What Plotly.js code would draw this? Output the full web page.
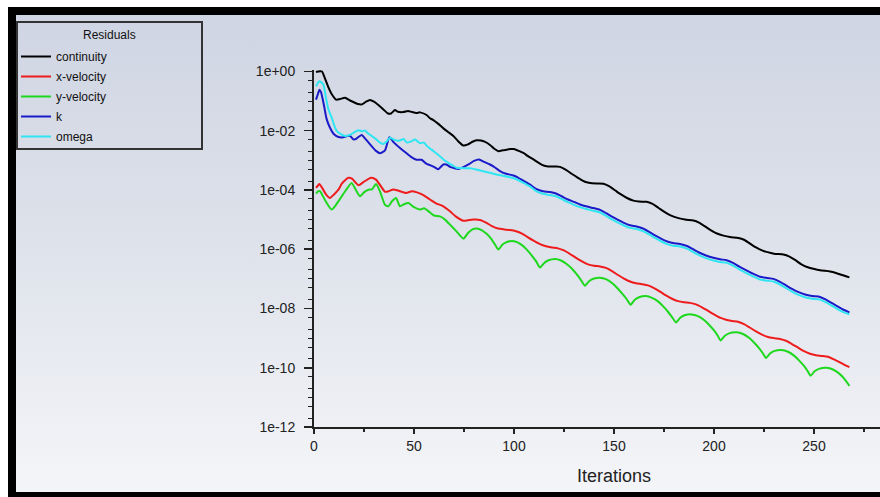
<!DOCTYPE html>
<html>
<head>
<meta charset="utf-8">
<script src="https://cdn.plot.ly/plotly-3.0.1.min.js"></script>
<style>
html,body{margin:0;padding:0;background:#fff;width:880px;height:497px;overflow:hidden}
#frame{position:absolute;left:8px;top:7px;width:872px;height:490px;box-sizing:border-box;border-top:8px solid #000;border-left:8px solid #000;border-bottom:5px solid #000;}
#chart{position:absolute;left:0;top:0;width:864px;height:477px;background:linear-gradient(to bottom,#cfd5e3 0%,#dde1ea 45%,#f4f5f8 100%);}
</style>
</head>
<body>
<div id="frame"><div id="chart"></div></div>
<script>
// Residual values are stored as log10(residual).
const seriesNames = ['continuity','x-velocity','y-velocity','k','omega'];

const continuityIter = [1,2,4,5,7,9,11,13,15.5,18,
 20,22,24,26,28,30,32,34.7,37,38.5,
 40.5,42,44.7,47,49,51.3,53,56.3,58,59.7,
 62,64.7,67,69.7,72,74.7,77,79,81.3,83.5,
 85.3,88,90,92.2,94.5,96.3,98,100,102,104.7,
 107,109.7,112,114,116.3,119,121,123,126,129,
 132,134.5,136.3,139,142,144.7,147.5,150.5,153.5,156.5,
 159.7,162.5,166.3,169,172,175,178,182.2,185.5,189.7,
 192.5,195.5,198.5,201.5,204.7,208,212.2,215,218,221,
 224,226.3,230,234.7,237.5,240.5,243.5,246.5,249.7,253,
 258,261,264,267.7];
const continityLog = [-0.02,0.0,0.0,-0.15,-0.50,-0.78,-0.95,-0.93,-0.89,-0.98,
 -1.04,-1.10,-1.11,-1.02,-0.96,-1.02,-1.12,-1.28,-1.42,-1.42,
 -1.30,-1.36,-1.37,-1.33,-1.37,-1.40,-1.38,-1.47,-1.58,-1.64,
 -1.76,-1.92,-2.04,-2.18,-2.35,-2.50,-2.46,-2.38,-2.32,-2.33,
 -2.37,-2.48,-2.60,-2.69,-2.66,-2.64,-2.62,-2.62,-2.67,-2.75,
 -2.86,-2.97,-3.07,-3.15,-3.20,-3.21,-3.21,-3.22,-3.32,-3.46,
 -3.59,-3.69,-3.74,-3.77,-3.78,-3.79,-3.87,-4.01,-4.15,-4.27,
 -4.36,-4.39,-4.40,-4.46,-4.59,-4.73,-4.85,-4.95,-5.00,-5.03,
 -5.10,-5.23,-5.36,-5.47,-5.54,-5.59,-5.62,-5.68,-5.81,-5.94,
 -6.04,-6.09,-6.15,-6.18,-6.24,-6.36,-6.50,-6.60,-6.66,-6.71,
 -6.75,-6.80,-6.87,-6.95];

const xVelIter = [1,2,2.7,4,6,8,10,12.2,14,17.2,
 19,22.2,25,28.5,31,33.5,35.5,37,39.7,42,
 46,49,51.5,54,58,61,64.7,68,71,74.7,
 77,79.7,83,86,89,92,95,98,101,104,
 107,110,113,116,119,122,125,128,131,134,
 137,140,143,146,149,152,155,158,161,164,
 167,170,173,176,179,182,185,188,191,194,
 197,200,203,206,209,212,215,218,221,224,
 227,230,233,236,239,242,245,248,251,254,
 257,260,263,266,267.7];
const xVelLog = [-3.93,-3.85,-3.80,-3.92,-4.15,-4.27,-4.15,-3.99,-3.78,-3.59,
 -3.62,-3.84,-3.72,-3.59,-3.65,-3.88,-4.06,-4.05,-3.98,-4.02,
 -4.10,-4.04,-4.08,-4.15,-4.32,-4.45,-4.55,-4.72,-4.90,-5.04,
 -5.02,-5.00,-5.01,-5.10,-5.22,-5.30,-5.33,-5.35,-5.39,-5.47,
 -5.60,-5.72,-5.83,-5.90,-5.94,-5.97,-6.04,-6.16,-6.29,-6.41,
 -6.51,-6.56,-6.58,-6.63,-6.74,-6.87,-6.99,-7.09,-7.15,-7.18,
 -7.22,-7.31,-7.43,-7.56,-7.67,-7.75,-7.79,-7.81,-7.86,-7.96,
 -8.08,-8.20,-8.31,-8.38,-8.42,-8.45,-8.53,-8.65,-8.77,-8.88,
 -8.96,-9.00,-9.03,-9.09,-9.20,-9.32,-9.44,-9.53,-9.58,-9.60,
 -9.63,-9.72,-9.82,-9.93,-9.98];

const yVelIter = [1,2,3,4,6,8.8,11,13.8,16,18.8,
 20,23,25,27.2,29,31,33,35.5,37.2,39,
 41,43,45,47.2,50,53,55,58,60,63,
 65.5,68,71,74.7,77,79.5,81.3,84,86.3,88.5,
 90.5,92.2,
 94,96,98.8,101.5,104,106.5,109,111,113,
 115,117,120.5,123.5,126.3,129,131.5,133.5,135.5,
 137.5,140,143,146,149,151.5,154,156.3,158.3,
 160.3,162.5,166,169,172,174.5,177,179,181,
 183,185.3,188.8,192,195,197.5,200,201.8,203.3,
 205.3,207.8,211.3,214.5,217.5,220,222.5,224.4,226,
 228,230.3,233.8,237,240,242.5,245,246.8,248.3,
 250.3,252.8,256.3,259.5,262.5,265,267.7];
const yVelLog = [-4.12,-4.05,-4.04,-4.15,-4.40,-4.66,-4.50,-4.22,-4.00,-3.76,
 -3.88,-4.21,-4.08,-3.99,-3.98,-3.80,-4.05,-4.50,-4.55,-4.38,
 -4.27,-4.55,-4.48,-4.44,-4.58,-4.66,-4.62,-4.76,-4.86,-4.89,
 -5.00,-5.17,-5.38,-5.64,-5.45,-5.32,-5.30,-5.36,-5.48,-5.64,
 -5.84,-6.01,
 -5.86,-5.77,-5.72,-5.76,-5.86,-6.02,-6.22,-6.40,-6.62,
 -6.47,-6.38,-6.33,-6.38,-6.50,-6.66,-6.86,-7.04,-7.23,
 -7.08,-6.99,-6.96,-7.01,-7.14,-7.30,-7.49,-7.68,-7.87,
 -7.71,-7.62,-7.58,-7.64,-7.76,-7.92,-8.11,-8.29,-8.47,
 -8.32,-8.23,-8.20,-8.26,-8.39,-8.55,-8.74,-8.91,-9.08,
 -8.93,-8.83,-8.80,-8.86,-8.99,-9.15,-9.34,-9.51,-9.67,
 -9.52,-9.43,-9.40,-9.46,-9.59,-9.75,-9.94,-10.11,-10.27,
 -10.12,-10.03,-10.00,-10.06,-10.19,-10.36,-10.61];

const kIter = [1,2,2.7,3.5,5,6.3,8,10,12.2,14.7,
 16.5,18,19.7,21,23.8,26,28.8,31,33,35.5,
 37.7,40,43,45.5,48.5,51.3,53.8,56.3,58,60,
 62,64.7,66.5,68,70,72.2,75,77.5,80,82.5,
 85,88,90.5,93,96,99.7,102,105,108,111.3,
 114.5,118,121,124,127,130,133,136.5,139.7,143,
 146,149,152,154.7,158,161.3,164.5,167.5,170.5,173.5,
 176.3,179.5,183,186.5,189.5,192.5,196,199.7,203,206.3,
 209.5,212.5,215.5,219,223,226.5,229.7,233,236,239,
 242,245.5,249,253,256,259,262,265,267.7];
const kLog = [-0.95,-0.75,-0.62,-0.70,-1.15,-1.60,-1.90,-2.12,-2.21,-2.22,
 -2.18,-2.17,-2.29,-2.28,-2.14,-2.30,-2.52,-2.68,-2.76,-2.66,
 -2.22,-2.40,-2.58,-2.72,-2.88,-2.98,-2.98,-3.12,-3.16,-3.22,
 -3.30,-3.14,-3.15,-3.22,-3.26,-3.29,-3.22,-3.13,-3.02,-2.97,
 -3.05,-3.14,-3.24,-3.36,-3.45,-3.51,-3.58,-3.70,-3.82,-3.97,
 -4.04,-4.07,-4.12,-4.22,-4.32,-4.40,-4.49,-4.56,-4.61,-4.67,
 -4.78,-4.90,-5.01,-5.10,-5.19,-5.23,-5.30,-5.41,-5.53,-5.64,
 -5.73,-5.79,-5.82,-5.89,-6.00,-6.11,-6.21,-6.29,-6.34,-6.37,
 -6.46,-6.58,-6.69,-6.81,-6.93,-6.97,-7.00,-7.10,-7.22,-7.34,
 -7.44,-7.53,-7.58,-7.61,-7.70,-7.82,-7.94,-8.05,-8.13];

const omegaIter = [1,2,2.7,3.5,4.7,6,7.2,8.8,10,11.3,
 13,15.5,18,20,22.2,24,25.5,27.2,29,31.3,
 33,34.7,36.5,38,40,41.7,43,44.7,46.5,48.5,
 50.5,53,55,56.5,58,60,62.2,64.7,67,69.5,
 71.3,74,78,81,84.7,88,91.3,94.5,98,101,
 104.5,108,111.3,114.5,118,121,124,127,130,133,
 136.5,139.7,143,146,149,152,154.7,158,161.3,164.5,
 167.5,170.5,173.5,176.3,179.5,183,186.5,189.5,192.5,196,
 199.7,203,206.3,209.5,212.5,215.5,219,223,226.5,229.7,
 233,236,239,242,245.5,249,253,256,259,262,
 265,267.7];
const omegaLog = [-0.50,-0.38,-0.33,-0.36,-0.45,-0.90,-1.28,-1.55,-1.80,-2.00,
 -2.10,-2.18,-2.14,-2.06,-1.98,-2.02,-1.99,-2.10,-2.18,-2.30,
 -2.40,-2.45,-2.35,-2.24,-2.30,-2.34,-2.33,-2.28,-2.40,-2.36,
 -2.30,-2.42,-2.40,-2.52,-2.60,-2.70,-2.82,-2.97,-3.08,-3.18,
 -3.25,-3.26,-3.27,-3.31,-3.37,-3.42,-3.48,-3.52,-3.57,-3.63,
 -3.75,-3.88,-4.05,-4.13,-4.17,-4.21,-4.31,-4.41,-4.50,-4.58,
 -4.65,-4.70,-4.76,-4.87,-4.99,-5.10,-5.19,-5.28,-5.32,-5.39,
 -5.50,-5.62,-5.73,-5.82,-5.88,-5.91,-5.98,-6.09,-6.20,-6.30,
 -6.38,-6.43,-6.46,-6.55,-6.67,-6.78,-6.90,-7.02,-7.06,-7.09,
 -7.19,-7.31,-7.43,-7.53,-7.62,-7.67,-7.70,-7.79,-7.91,-8.03,
 -8.13,-8.20];

const yTickVals = [1,1e-2,1e-4,1e-6,1e-8,1e-10,1e-12];
const yTickText = ['1e+00','1e-02','1e-04','1e-06','1e-08','1e-10','1e-12'];
const xTitle = 'Iterations';
const legendTitle = 'Residuals';

const colors = ['#000000','#ee1c1c','#1ed81e','#1a1ac8','#2ee6f2'];
const iters = [continuityIter, xVelIter, yVelIter, kIter, omegaIter];
const logs = [continityLog, xVelLog, yVelLog, kLog, omegaLog];

const traces = seriesNames.map((name, i) => ({
  type: 'scatter', mode: 'lines', name: name,
  x: iters[i],
  y: logs[i].map(e => Math.pow(10, e)),
  legendgroup: name,
  line: {color: colors[i], width: 2, shape: 'spline', smoothing: 0.6},
  hoverinfo: 'skip'
}));

// plot-area geometry used to place the legend frame (page px -> paper units)
const L = 298, W = 566, B = 412, H = 357;
const px2x = p => (p - L) / W;
const px2y = p => (B - p) / H;

const axisColor = '#222';
const layout = {
  width: 864, height: 477,
  margin: {l: 298, r: 0, t: 55, b: 65},
  paper_bgcolor: 'rgba(0,0,0,0)',
  plot_bgcolor: 'rgba(0,0,0,0)',
  font: {family: 'Liberation Sans, Arial, sans-serif', size: 14, color: '#222'},
  showlegend: true,
  legend: {
    xref: 'container', yref: 'container',
    x: 0, y: 1 - 27/477, xanchor: 'left', yanchor: 'top',
    bgcolor: 'rgba(0,0,0,0)', borderwidth: 0,
    font: {size: 12, color: '#111'},
    tracegroupgap: 1,
    itemclick: false
  },
  shapes: [{
    type: 'rect', xref: 'paper', yref: 'paper',
    x0: px2x(1), x1: px2x(186), y0: px2y(134), y1: px2y(7),
    line: {color: '#333', width: 2}, fillcolor: 'rgba(0,0,0,0)', layer: 'above'
  }],
  xaxis: {
    range: [0, 283], tickmode: 'linear', tick0: 0, dtick: 50,
    ticks: 'outside', ticklen: 5, tickwidth: 1.5, tickcolor: axisColor,
    showline: true, linecolor: axisColor, linewidth: 2,
    showgrid: false, zeroline: false,
    tickfont: {size: 14, color: '#222'},
    minor: {ticks: 'outside', ticklen: 3, dtick: 25, tick0: 0, tickcolor: axisColor, tickwidth: 1.5, showgrid: false}
  },
  yaxis: {
    type: 'log', range: [-12, 0.05],
    tickmode: 'array', tickvals: yTickVals, ticktext: yTickText,
    ticks: 'outside', ticklen: 8, tickwidth: 1.5, tickcolor: axisColor,
    ticklabelstandoff: 6,
    showline: true, linecolor: axisColor, linewidth: 2,
    showgrid: false, zeroline: false,
    tickfont: {size: 14, color: '#222'},
    minor: {ticks: 'outside', ticklen: 4, dtick: 'D2', tickcolor: axisColor, tickwidth: 1, showgrid: false}
  },
  annotations: [{
    text: xTitle, xref: 'paper', yref: 'paper', x: 0.53, y: 0,
    xanchor: 'center', yanchor: 'middle', yshift: -49, showarrow: false,
    font: {size: 18, color: '#222'}
  }, {
    text: legendTitle, xref: 'paper', yref: 'paper', x: px2x(93), y: px2y(20),
    xanchor: 'center', yanchor: 'middle', showarrow: false,
    font: {size: 12, color: '#111'}
  }]
};

Plotly.newPlot('chart', traces, layout, {displayModeBar: false, staticPlot: true});
</script>
</body>
</html>
